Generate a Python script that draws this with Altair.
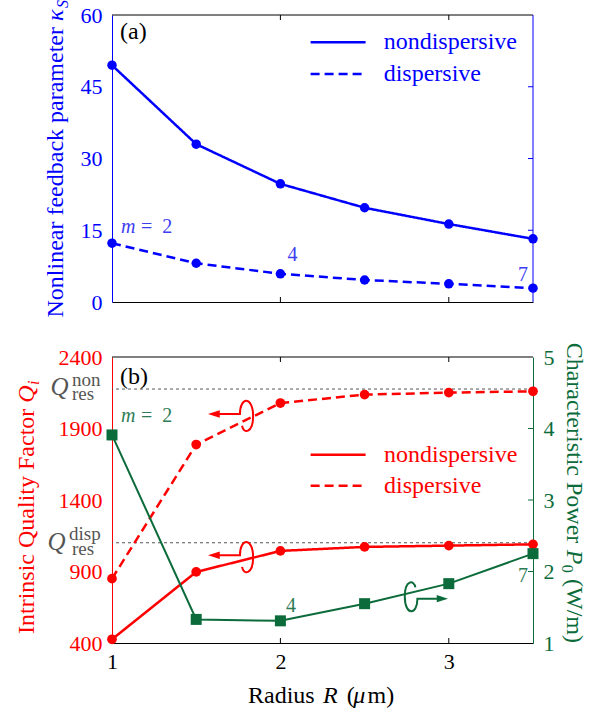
import altair as alt
import pandas as pd

# ---------------- data ----------------
radius = [1.0, 1.5, 2.0, 2.5, 3.0, 3.5]
kappa_nondisp = [49.5, 33.0, 24.7, 19.7, 16.3, 13.2]
kappa_disp = [12.3, 8.1, 5.9, 4.6, 3.8, 2.9]
q_nondisp = [426, 897, 1044, 1072, 1081, 1090]
q_disp = [850, 1788, 2078, 2137, 2151, 2160]
p0 = [3.91, 1.33, 1.31, 1.55, 1.83, 2.25]
q_res_levels = [2176, 1101]
series = ["nondispersive", "dispersive"]
x_ticks = [1, 2, 3]
kappa_ticks = [0, 15, 30, 45, 60]
q_ticks = [400, 900, 1400, 1900, 2400]
p_ticks = [1, 2, 3, 4, 5]

# ---------------- styles ----------------
FONT = "Liberation Serif, Times New Roman, DejaVu Serif, serif"
W, HT, HB = 421, 287, 286
BLUE, BLUE_T = "#0000ff", "#3c3cf0"
RED = "#ff0000"
GREEN, GREEN_T = "#0b6b3a", "#2e7c55"
GRAY = "#555555"
ONE = pd.DataFrame({"k": [0]})

top_df = pd.DataFrame({"R": radius * 2, "kappa": kappa_nondisp + kappa_disp,
                       "series": [series[0]] * 6 + [series[1]] * 6})
q_df = pd.DataFrame({"R": radius * 2, "Q": q_nondisp + q_disp,
                     "series": [series[0]] * 6 + [series[1]] * 6})
p_df = pd.DataFrame({"R": radius, "P0": p0})


def txt(x, y, s, size=24, color="black", italic=False, align="left",
        baseline="alphabetic", angle=0):
    kw = dict(text=s, fontSize=size, font=FONT, color=color, align=align, baseline=baseline)
    if italic:
        kw["fontStyle"] = "italic"
    if angle:
        kw["angle"] = angle
    return alt.Chart(ONE).mark_text(**kw).encode(x=alt.value(x), y=alt.value(y))


def hrule(x1, x2, y, color, width=1.0, dash=None):
    kw = dict(color=color, strokeWidth=width)
    if dash:
        kw["strokeDash"] = dash
    return alt.Chart(ONE).mark_rule(**kw).encode(x=alt.value(x1), x2=alt.value(x2), y=alt.value(y))


def vrule(x, y1, y2, color, width=1.0):
    return alt.Chart(ONE).mark_rule(color=color, strokeWidth=width).encode(
        x=alt.value(x), y=alt.value(y1), y2=alt.value(y2))


def symbol(x, y, path, size, color, filled):
    return alt.Chart(ONE).mark_point(shape=path, size=size, color=color, filled=filled,
                                     opacity=1, strokeWidth=2).encode(
        x=alt.value(x), y=alt.value(y))


xs = alt.Scale(domain=[1, 3.5], nice=False, zero=False)
dash = alt.StrokeDash("series:N", scale=alt.Scale(domain=series, range=[[1, 0], [9, 5]]), legend=None)

# ---------------- top panel ----------------
x_top = alt.X("R:Q", scale=xs, axis=alt.Axis(values=x_ticks, labels=False, ticks=False,
                                             domainColor="black", grid=False, title=None))
y_top = alt.Y("kappa:Q", scale=alt.Scale(domain=[0, 60], nice=False, zero=False),
              axis=alt.Axis(values=kappa_ticks, ticks=False, domainColor=BLUE, labelColor=BLUE,
                            labelFontSize=22, labelFont=FONT, labelPadding=10, format="d",
                            grid=False, title=None))

top_lines = alt.Chart(top_df).mark_line(color=BLUE, strokeWidth=2.5).encode(x=x_top, y=y_top, strokeDash=dash)
top_pts = alt.Chart(top_df).mark_point(filled=True, shape="circle", size=90, color=BLUE, opacity=1).encode(x=x_top, y=y_top)
xt_df = pd.DataFrame({"R": [2, 3]})
kt_df = pd.DataFrame({"kappa": [15, 30, 45]})
top_ticks_b = alt.Chart(xt_df).mark_rule(color="black").encode(x=x_top, y=alt.value(HT), y2=alt.value(HT - 5))
top_ticks_t = alt.Chart(xt_df).mark_rule(color="black").encode(x=x_top, y=alt.value(0), y2=alt.value(5))
top_ticks_r = alt.Chart(kt_df).mark_rule(color=BLUE).encode(y=y_top, x=alt.value(W - 5), x2=alt.value(W))

top = alt.layer(
    top_lines, top_pts, top_ticks_b, top_ticks_t, top_ticks_r,
    hrule(0, W, 0, "black"), vrule(W, 0, HT, BLUE),
    txt(8, 17, "(a)", 24, "black", baseline="middle"),
    hrule(198.6, 253.6, 27.3, BLUE, 2.5), hrule(198.6, 253.6, 59, BLUE, 2.5, [9, 5]),
    txt(271.7, 27.3, "nondispersive", 24, BLUE, baseline="middle"),
    txt(271.7, 59, "dispersive", 24, BLUE, baseline="middle"),
    txt(9, 212, "m", 20, BLUE_T, italic=True, baseline="middle"),
    txt(29, 212, "=\u20022", 20, BLUE_T, baseline="middle"),
    txt(175.5, 240, "4", 20, BLUE_T, baseline="middle"),
    txt(406, 260, "7", 20, BLUE_T, baseline="middle"),
    txt(-49, 12, "Nonlinear feedback parameter", 24, BLUE, align="right", angle=270),
    txt(-49, 6, "κ", 24, BLUE, italic=True, angle=270),
    txt(-44, -7, "S", 16, BLUE, italic=True, angle=270),
).properties(width=W, height=HT)

# ---------------- bottom panel ----------------
x_bot = alt.X("R:Q", scale=xs, axis=alt.Axis(values=x_ticks, ticks=False, domainColor="black",
                                             labelColor="black", labelFontSize=22, labelFont=FONT,
                                             labelPadding=8, labelFlush=False, format="d",
                                             grid=False, title=None))
y_q = alt.Y("Q:Q", scale=alt.Scale(domain=[400, 2400], nice=False, zero=False),
            axis=alt.Axis(values=q_ticks, ticks=False, domainColor=RED, labelColor=RED,
                          labelFontSize=22, labelFont=FONT, labelPadding=10, format="d",
                          grid=False, title=None))
y_p = alt.Y("P0:Q", scale=alt.Scale(domain=[1, 5], nice=False, zero=False),
            axis=alt.Axis(orient="right", values=p_ticks, ticks=False, domainColor=GREEN, labelColor=GREEN,
                          labelFontSize=22, labelFont=FONT, labelPadding=10, format="d",
                          grid=False, title=None))

ref_df = pd.DataFrame({"Q": q_res_levels})
q_lines = alt.Chart(q_df).mark_line(color=RED, strokeWidth=2.5).encode(x=x_bot, y=y_q, strokeDash=dash)
q_pts = alt.Chart(q_df).mark_point(filled=True, shape="circle", size=95, color=RED, opacity=1).encode(x=x_bot, y=y_q)
q_refs = alt.Chart(ref_df).mark_rule(color=GRAY, strokeWidth=1, strokeDash=[3, 3]).encode(y=y_q)
bot_ticks_b = alt.Chart(xt_df).mark_rule(color="black").encode(x=x_bot, y=alt.value(HB), y2=alt.value(HB - 5))
bot_ticks_t = alt.Chart(xt_df).mark_rule(color="black").encode(x=x_bot, y=alt.value(0), y2=alt.value(5))

RED_LOOP = "M -0.55 0 L 0.36 0 C 0.36 -0.76 0.92 -0.76 0.92 0.09 C 0.92 0.85 0.5 0.85 0.45 0.5"
RED_HEAD = "M -1 0 L -0.5 -0.16 L -0.5 0.16 Z"
GREEN_LOOP = "M 0.55 0 L -0.36 0 C -0.36 0.76 -0.92 0.76 -0.92 -0.09 C -0.92 -0.85 -0.5 -0.85 -0.45 -0.5"
GREEN_HEAD = "M 1 0 L 0.5 0.16 L 0.5 -0.16 Z"

left = alt.layer(
    q_refs, q_lines, q_pts, bot_ticks_b, bot_ticks_t, hrule(0, W, 0, "black"),
    txt(8, 20, "(b)", 24, "black", baseline="middle"),
    hrule(198.6, 253.6, 97.7, RED, 2.5), hrule(198.6, 253.6, 128.7, RED, 2.5, [9, 5]),
    txt(272, 97.7, "nondispersive", 24, RED, baseline="middle"),
    txt(272, 128.7, "dispersive", 24, RED, baseline="middle"),
    symbol(119.5, 57, RED_LOOP, 2209, RED, False), symbol(119.5, 57, RED_HEAD, 2209, RED, True),
    symbol(119.5, 198.2, RED_LOOP, 2209, RED, False), symbol(119.5, 198.2, RED_HEAD, 2209, RED, True),
    txt(-61.5, 38, "Q", 25, GRAY, italic=True),
    txt(-40, 29.4, "non", 19, GRAY),
    txt(-40, 43.4, "res", 19, GRAY),
    txt(-64.5, 192.7, "Q", 25, GRAY, italic=True),
    txt(-43, 182.7, "disp", 19, GRAY),
    txt(-40, 197.7, "res", 19, GRAY),
    txt(-78, 51.7, "Intrinsic Quality Factor", 24, RED, align="right", angle=270),
    txt(-78, 45.7, "Q", 24, RED, italic=True, angle=270),
    txt(-73, 28, "i", 16, RED, italic=True, angle=270),
    txt(136, 345.7, "Radius", 24, "black"),
    txt(211, 345.7, "R", 24, "black", italic=True),
    txt(234.7, 345.7, "(", 24, "black"),
    txt(241.3, 345.7, "μ", 24, "black", italic=True),
    txt(255.5, 345.7, "m)", 24, "black"),
)

pt_df = pd.DataFrame({"P0": [2, 3, 4]})
right = alt.layer(
    alt.Chart(p_df).mark_line(color=GREEN, strokeWidth=2).encode(x=x_bot, y=y_p),
    alt.Chart(p_df).mark_point(filled=True, shape="square", size=121, color=GREEN, opacity=1).encode(x=x_bot, y=y_p),
    alt.Chart(pt_df).mark_rule(color=GREEN).encode(y=y_p, x=alt.value(W - 5), x2=alt.value(W)),
    symbol(313.5, 241.7, GREEN_LOOP, 2025, GREEN, False), symbol(313.5, 241.7, GREEN_HEAD, 2025, GREEN, True),
    txt(9, 58.7, "m", 20, GREEN_T, italic=True, baseline="middle"),
    txt(29, 58.7, "=\u20022", 20, GREEN_T, baseline="middle"),
    txt(174, 248.7, "4", 20, GREEN_T, baseline="middle"),
    txt(406, 218.7, "7", 20, GREEN_T, baseline="middle"),
    txt(455, -14.3, "Characteristic Power", 24, GREEN, angle=90),
    txt(455, 192.7, "P", 24, GREEN, italic=True, angle=90),
    txt(450, 207.7, "0", 16, GREEN, angle=90),
    txt(455, 222, "(W/m)", 24, GREEN, angle=90),
)

bottom = alt.layer(left, right).resolve_scale(y="independent").properties(width=W, height=HB)

chart = alt.vconcat(top, bottom, spacing=24).properties(
    padding={"left": 15, "top": 0, "right": 0, "bottom": 0}
).configure_view(stroke=None)

chart.save("out.html", embed_options={"renderer": "svg", "actions": False})
